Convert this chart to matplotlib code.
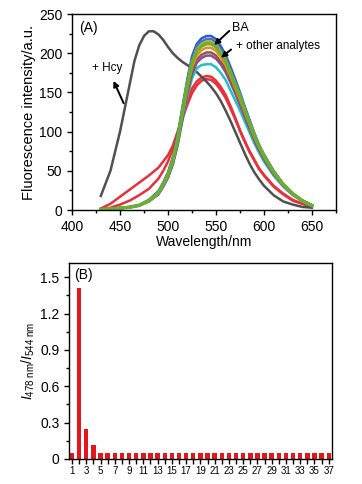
import numpy as np
import matplotlib.pyplot as plt
from matplotlib.ticker import MultipleLocator, FixedLocator

plt.rcParams['font.family'] = ['Liberation Sans', 'DejaVu Sans']
plt.rcParams['mathtext.fontset'] = 'custom'
plt.rcParams['mathtext.rm'] = 'Liberation Sans'
plt.rcParams['mathtext.it'] = 'Liberation Sans:italic'

# (A) emission spectra
wl = [430, 440, 450, 460, 470, 480, 490, 495, 500, 505, 510, 515, 520, 525, 530, 535, 540,
      545, 550, 555, 560, 565, 570, 575, 580, 585, 590, 595, 600, 610, 620, 630, 640, 650]

red_upper = [2, 8, 17, 26, 35, 44, 54, 62, 70, 82, 100, 118, 140, 155, 164, 169, 171,
             170, 165, 157, 147, 133, 118, 102, 88, 75, 64, 53, 45, 31, 21, 13, 8, 5]
red_lower = [1, 3, 7, 12, 19, 27, 40, 50, 62, 78, 97, 116, 134, 149, 159, 165, 167,
             166, 161, 153, 143, 130, 116, 101, 87, 74, 63, 52, 44, 30, 20, 12, 8, 5]

cyan = [1, 1.5, 2.5, 3.5, 5.5, 11, 20, 30, 41, 58, 82, 114, 144, 168, 181, 185, 186,
        186, 182, 175, 166, 153, 140, 127, 113, 99, 85, 73, 62, 44, 30, 19, 11, 5]
purple = [1, 1.5, 2.5, 3.5, 6, 11, 20, 30, 42, 59, 84, 116, 148, 174, 188, 194, 197,
          197, 193, 186, 176, 163, 149, 134, 119, 104, 89, 76, 65, 46, 31, 20, 12, 6]
brown = [1, 1.5, 2.5, 3.5, 6, 11, 21, 31, 43, 60, 86, 119, 151, 177, 192, 198, 201,
         201, 197, 189, 180, 166, 152, 137, 122, 106, 91, 78, 66, 47, 32, 20, 12, 6]
orange = [1, 1.5, 2.5, 3.5, 6, 11, 21, 32, 44, 62, 88, 122, 155, 182, 197, 204, 207,
          207, 203, 195, 185, 171, 156, 141, 125, 109, 93, 80, 68, 48, 32, 20, 12, 6]
blue = [1, 1.5, 2.5, 4, 6.5, 13, 24, 35, 48, 67, 95, 131, 166, 196, 212, 219, 222,
        222, 218, 209, 198, 183, 167, 150, 132, 115, 98, 83, 71, 50, 33, 21, 12, 6]
blue2 = [1, 1.5, 2.5, 4, 6, 12, 23, 34, 47, 66, 93, 129, 163, 193, 208, 215, 218,
         218, 214, 205, 194, 179, 163, 147, 130, 113, 97, 82, 70, 50, 33, 21, 12, 6]
olive = [1, 1.5, 2.5, 3.5, 6, 12, 22, 33, 46, 64, 91, 127, 161, 189, 205, 212, 215,
         215, 211, 202, 192, 177, 162, 146, 129, 112, 96, 82, 70, 49, 33, 21, 12, 6]
green = [1, 1.5, 2.5, 3.5, 6, 12, 22, 33, 45, 63, 90, 125, 160, 188, 203, 209, 212,
         212, 208, 200, 190, 175, 160, 145, 128, 111, 95, 81, 69, 49, 33, 21, 12, 6]

wl_hcy = [430, 440, 450, 455, 460, 465, 470, 475, 480, 485, 490, 495, 500, 505, 510, 515,
          520, 525, 530, 535, 540, 545, 550, 555, 560, 565, 570, 575, 580, 585, 590, 595,
          600, 610, 620, 630, 640, 650]
hcy = [18, 50, 100, 130, 160, 190, 210, 222, 228, 228, 224, 217, 208, 200, 194, 189,
       185, 181, 176, 170, 164, 157, 149, 139, 127, 114, 100, 86, 72, 59, 48, 39,
       31, 19, 11, 7, 4, 3]

# (B) ratio for each sample
samples = list(range(1, 38))
ratio = [0.045, 1.41, 0.25, 0.115, 0.045, 0.05, 0.05, 0.05, 0.045, 0.045,
         0.045, 0.045, 0.045, 0.045, 0.045, 0.045, 0.045, 0.045, 0.045, 0.045,
         0.045, 0.045, 0.045, 0.045, 0.045, 0.05, 0.045, 0.045, 0.045, 0.045,
         0.045, 0.045, 0.045, 0.045, 0.045, 0.045, 0.045]

fig = plt.figure(figsize=(3.62, 4.84), dpi=100)
ax1 = fig.add_axes([0.199, 0.566, 0.729, 0.405])
ax2 = fig.add_axes([0.191, 0.052, 0.727, 0.405])

for ax in (ax1, ax2):
    ax.tick_params(which='both', direction='out', top=False, right=False, labelsize=10)
    ax.tick_params(which='major', length=3.5, width=1)
    ax.tick_params(which='minor', length=2, width=1)
    for s in ax.spines.values():
        s.set_linewidth(1)

lw = 1.8
ax1.plot(wl, red_upper, color='#e8303a', lw=lw)
ax1.plot(wl, red_lower, color='#e8303a', lw=lw)
ax1.plot(wl_hcy, hcy, color='#505050', lw=lw)
band = [(cyan, '#20c0c8'), (purple, '#8a4a9a'), (brown, '#8a5a4a'), (orange, '#f08a20'),
        (blue, '#2e5ad0'), (blue2, '#4070e0'), (olive, '#b8b020'), (green, '#6ab030')]
for ys, c in band:
    ax1.plot(wl, ys, color=c, lw=lw)
ax1.plot(wl, green, color='#6ab030', lw=2.4)

ax1.set_xlim(400, 675)
ax1.set_ylim(0, 250)
ax1.xaxis.set_major_locator(FixedLocator([400, 450, 500, 550, 600, 650]))
ax1.xaxis.set_minor_locator(MultipleLocator(25))
ax1.yaxis.set_major_locator(MultipleLocator(50))
ax1.yaxis.set_minor_locator(MultipleLocator(25))
ax1.set_xlabel('Wavelength/nm', fontsize=10, labelpad=1)
ax1.set_ylabel('Fluorescence intensity/a.u.', fontsize=10.5, labelpad=2)

ax1.text(407, 232, '(A)', fontsize=10, va='center')
arrow = dict(arrowstyle='-|>', color='black', lw=1.4, mutation_scale=8)
ax1.annotate('', xy=(546, 208), xytext=(566, 231), arrowprops=arrow)
ax1.text(567, 232, 'BA', fontsize=9, va='center')
ax1.annotate('', xy=(553, 192), xytext=(568, 207), arrowprops=arrow)
ax1.text(571, 209, '+ other analytes', fontsize=8.5, va='center')
ax1.annotate('', xy=(442, 168), xytext=(455, 133), arrowprops=arrow)
ax1.text(421, 181, '+ Hcy', fontsize=8.5, va='center')

ax2.bar(samples, ratio, width=0.62, color='#e8141c')
ax2.set_xlim(0.6, 37.5)
ax2.set_ylim(0, 1.62)
ax2.set_xticks(samples)
ax2.set_xticklabels([str(s) if s % 2 == 1 else '' for s in samples], fontsize=7)
ax2.tick_params(axis='x', pad=2)
ax2.set_yticks([0, 0.3, 0.6, 0.9, 1.2, 1.5])
ax2.set_yticklabels(['0', '0.3', '0.6', '0.9', '1.2', '1.5'])
ax2.yaxis.set_minor_locator(MultipleLocator(0.15))
ax2.set_ylabel(r'$\mathit{I}_{\mathrm{478\ nm}}/\mathit{I}_{\mathrm{544\ nm}}$', fontsize=10, labelpad=2)
ax2.text(0.02, 0.975, '(B)', transform=ax2.transAxes, fontsize=10, va='top')

fig.savefig('out.png', dpi=100)
